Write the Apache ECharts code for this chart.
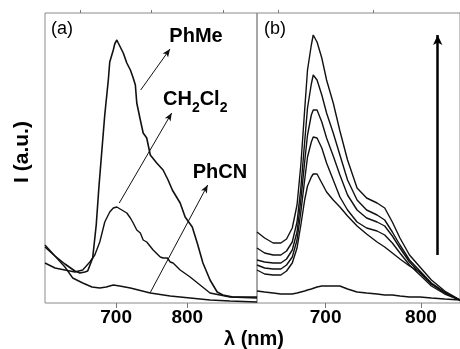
<!DOCTYPE html>
<html>
<head>
<meta charset="utf-8">
<script src="https://cdn.jsdelivr.net/npm/echarts@6/dist/echarts.min.js"></script>
<style>
  html, body { margin: 0; padding: 0; background: #fff; }
  #chart { width: 460px; height: 349px; }
</style>
</head>
<body>
<div id="chart"></div>
<script>
// panel (a): emission in three solvents (intensity in arbitrary units)
const wlPhMe = [600, 614, 628, 642, 649, 656, 660, 667, 672, 676, 680, 684, 689, 691, 696, 698, 701, 703, 705, 710, 715, 720, 724, 727, 729, 734, 738, 743, 748, 757, 766, 773, 779, 790, 797, 807, 814, 822, 832, 842, 850, 864, 898]
const intPhMe = [56, 47, 39, 32, 30, 31, 32, 45, 78, 118, 153, 188, 223, 241, 253, 259, 263, 260, 258, 250, 240, 233, 225, 218, 200, 183, 170, 165, 148, 140, 133, 123, 113, 100, 86, 76, 60, 40, 23, 11, 8, 6, 6]

const wlCH2Cl2 = [600, 614, 628, 642, 653, 663, 670, 677, 684, 691, 696, 701, 708, 715, 720, 724, 729, 734, 738, 743, 752, 762, 766, 772, 776, 780, 790, 800, 804, 818, 832, 846, 860, 898]
const intCH2Cl2 = [40, 35, 33, 31, 33, 41, 48, 61, 81, 91, 95, 96, 93, 90, 85, 80, 73, 70, 63, 61, 53, 46, 45, 45, 41, 40, 33, 28, 26, 18, 10, 8, 6, 5]

const wlPhCN = [600, 614, 628, 639, 653, 666, 677, 686, 696, 705, 720, 748, 776, 804, 832, 860, 898]
const intPhCN = [58, 47, 36, 25, 20, 16, 15, 16, 18, 17, 15, 10, 7, 5, 3, 2, 1]

// panel (b): six spectra sharing one wavelength grid
const wlB = [628, 636, 645, 653, 659, 665, 670, 674, 678, 681, 685, 687, 691, 696, 701, 708, 715, 723, 733, 743, 754, 762, 770, 778, 788, 799, 811, 825, 841]
const intB1 = [12, 11, 10, 9, 9, 9, 10, 11, 12, 13, 14, 15, 16, 17, 17, 17, 17, 14, 11, 10, 9, 8, 8, 7, 6, 6, 5, 4, 3]
const intB2 = [33, 29, 28, 28, 32, 40, 55, 78, 103, 117, 126, 129, 129, 120, 111, 103, 96, 87, 77, 69, 61, 56, 50, 44, 37, 31, 19, 10, 3]
const intB3 = [38, 35, 34, 34, 38, 46, 63, 91, 123, 146, 161, 166, 165, 155, 140, 123, 106, 93, 81, 75, 72, 68, 60, 50, 38, 28, 17, 9, 3]
const intB4 = [43, 41, 40, 40, 44, 53, 71, 103, 141, 168, 188, 193, 193, 181, 165, 147, 128, 108, 93, 85, 81, 77, 67, 55, 41, 30, 19, 10, 3]
const intB5 = [55, 50, 48, 48, 52, 61, 81, 115, 161, 195, 219, 228, 223, 208, 190, 170, 148, 123, 103, 93, 88, 83, 71, 58, 43, 32, 20, 11, 3]
const intB6 = [71, 65, 60, 60, 64, 75, 98, 138, 193, 233, 258, 268, 261, 245, 223, 200, 172, 143, 115, 105, 100, 95, 81, 65, 48, 36, 23, 12, 3]

// axis ticks
const majorTicks = [700, 800]
const minorTicksA = [650, 750, 850]
const minorTicksB = [650, 750]

// annotation arrows, [wavelength, intensity] start -> end
const arrowsA = [
  [[734.5, 213], [775.7, 254]],   // PhMe
  [[704.4, 100], [778.1, 190]],   // CH2Cl2
  [[747.6, 10], [828.7, 118]]     // PhCN
]
const arrowB = [[817.6, 48], [817.6, 268]]

const FONT = '"Liberation Sans", Arial, sans-serif'
const zip = (xs, ys) => xs.map((x, i) => [x, ys[i]])

const chart = echarts.init(document.getElementById('chart'), null, { renderer: 'canvas' })

const lineSeries = (data, xi, width) => ({
  type: 'line',
  xAxisIndex: xi,
  yAxisIndex: xi === 0 ? 0 : 1,
  data,
  showSymbol: false,
  symbol: 'none',
  smooth: false,
  silent: true,
  lineStyle: { color: '#111', width },
  emphasis: { disabled: true }
})

const xAxisBase = (grid, min, max) => ({
  type: 'value',
  gridIndex: grid,
  min, max,
  axisLine: { show: false },
  splitLine: { show: false }
})

const yAxisBase = (grid) => ({
  type: 'value',
  gridIndex: grid,
  min: 0, max: 290,
  axisLine: { show: false },
  axisTick: { show: false },
  axisLabel: { show: false },
  splitLine: { show: false }
})

const majorX = (grid, min, max) => ({
  ...xAxisBase(grid, min, max),
  axisTick: { show: true, inside: false, length: 5, customValues: majorTicks, lineStyle: { color: '#777', width: 1 } },
  axisLabel: { show: true, customValues: majorTicks, margin: 5, color: '#000', fontFamily: FONT, fontWeight: 'bold', fontSize: 19 }
})

const minorX = (grid, min, max, ticks) => ({
  ...xAxisBase(grid, min, max),
  axisTick: { show: true, inside: false, length: 3, customValues: ticks, lineStyle: { color: '#777', width: 1 } },
  axisLabel: { show: false }
})

const phMe = lineSeries(zip(wlPhMe, intPhMe), 0, 1.6)
phMe.markLine = {
  silent: true,
  animation: false,
  symbol: ['none', 'arrow'],
  symbolSize: [5, 8],
  label: { show: false },
  lineStyle: { color: '#111', width: 1, type: 'solid' },
  data: arrowsA.map(a => [{ coord: a[0] }, { coord: a[1] }])
}

const b1 = lineSeries(zip(wlB, intB1), 2, 1.4)
b1.markLine = {
  silent: true,
  animation: false,
  symbol: ['none', 'arrow'],
  symbolSize: [7, 10],
  label: { show: false },
  lineStyle: { color: '#000', width: 2.5, type: 'solid' },
  data: [[{ coord: arrowB[0] }, { coord: arrowB[1] }]]
}

chart.setOption({
  animation: false,
  backgroundColor: '#fff',
  grid: [
    { left: 45, top: 13, width: 212, height: 290, show: true, borderColor: '#8a8a8a', borderWidth: 1, backgroundColor: 'transparent' },
    { left: 257, top: 13, width: 204, height: 290, show: true, borderColor: '#8a8a8a', borderWidth: 1, backgroundColor: 'transparent' }
  ],
  xAxis: [
    majorX(0, 600, 898),
    minorX(0, 600, 898, minorTicksA),
    majorX(1, 628, 841),
    minorX(1, 628, 841, minorTicksB)
  ],
  yAxis: [yAxisBase(0), yAxisBase(1)],
  series: [
    phMe,
    lineSeries(zip(wlCH2Cl2, intCH2Cl2), 0, 1.4),
    lineSeries(zip(wlPhCN, intPhCN), 0, 1.4),
    b1,
    lineSeries(zip(wlB, intB2), 2, 1.4),
    lineSeries(zip(wlB, intB3), 2, 1.4),
    lineSeries(zip(wlB, intB4), 2, 1.4),
    lineSeries(zip(wlB, intB5), 2, 1.4),
    lineSeries(zip(wlB, intB6), 2, 1.4)
  ],
  graphic: [
    { type: 'text', x: 22, y: 152, rotation: Math.PI / 2, silent: true,
      style: { text: 'I (a.u.)', font: 'bold 21px ' + FONT, fill: '#000', textAlign: 'center', textVerticalAlign: 'middle' } },
    { type: 'text', x: 254, y: 339, silent: true,
      style: { text: 'λ (nm)', font: 'bold 20px ' + FONT, fill: '#000', textAlign: 'center', textVerticalAlign: 'middle' } },
    { type: 'text', x: 51, y: 29, silent: true,
      style: { text: '(a)', font: '18px ' + FONT, fill: '#000', textAlign: 'left', textVerticalAlign: 'middle' } },
    { type: 'text', x: 264, y: 29, silent: true,
      style: { text: '(b)', font: '18px ' + FONT, fill: '#000', textAlign: 'left', textVerticalAlign: 'middle' } },
    { type: 'text', x: 196, y: 36, silent: true,
      style: { text: 'PhMe', font: 'bold 20px ' + FONT, fill: '#000', textAlign: 'center', textVerticalAlign: 'middle' } },
    { type: 'text', x: 163, y: 102, silent: true,
      style: {
        text: '{n|CH}{s|2}{n|Cl}{s|2}',
        textAlign: 'left', textVerticalAlign: 'middle',
        rich: {
          n: { font: 'bold 20px ' + FONT, fill: '#000', lineHeight: 26, verticalAlign: 'top' },
          s: { font: 'bold 14px ' + FONT, fill: '#000', lineHeight: 14, verticalAlign: 'bottom' }
        }
      } },
    { type: 'text', x: 220, y: 172, silent: true,
      style: { text: 'PhCN', font: 'bold 20px ' + FONT, fill: '#000', textAlign: 'center', textVerticalAlign: 'middle' } }
  ]
})
</script>
</body>
</html>
